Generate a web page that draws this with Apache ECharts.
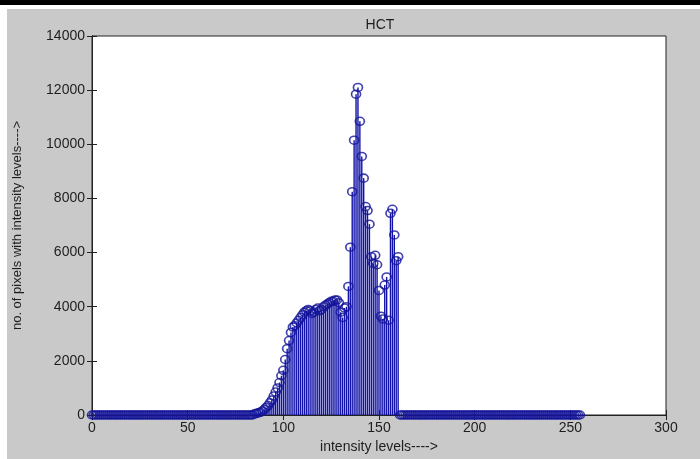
<!DOCTYPE html>
<html>
<head>
<meta charset="utf-8">
<script src="https://cdn.jsdelivr.net/npm/echarts@6/dist/echarts.min.js"></script>
<style>
  html, body { margin: 0; padding: 0; background: #fff; }
  #chart { width: 700px; height: 459px; }
</style>
</head>
<body>
<div id="chart"></div>
<script>
// histogram counts for intensity levels 0..255
const counts = [
  0, 0, 0, 0, 0, 0, 0, 0, 0, 0, 0, 0, 0, 0, 0, 0, 0, 0, 0, 0,
  0, 0, 0, 0, 0, 0, 0, 0, 0, 0, 0, 0, 0, 0, 0, 0, 0, 0, 0, 0,
  0, 0, 0, 0, 0, 0, 0, 0, 0, 0, 0, 0, 0, 0, 0, 0, 0, 0, 0, 0,
  0, 0, 0, 0, 0, 0, 0, 0, 0, 0, 0, 0, 0, 0, 0, 0, 0, 0, 0, 0,
  0, 0, 0, 0, 0, 50, 60, 80, 100, 150, 200, 280, 350, 450, 550, 700, 850, 1000, 1200, 1450,
  1650, 2050, 2450, 2750, 3050, 3250, 3300, 3400, 3500, 3600, 3700, 3800, 3850, 3900, 3850, 3750, 3800, 3900, 3950, 3850,
  3900, 4000, 4050, 4100, 4150, 4200, 4200, 4250, 4250, 4150, 3800, 3600, 3950, 4000, 4750, 6200, 8250, 10150, 11850, 12100,
  10850, 9550, 8750, 7700, 7550, 7050, 5850, 5600, 5900, 5550, 4600, 3650, 3550, 4800, 5100, 3500, 7450, 7600, 6650, 5700,
  5850, 0, 0, 0, 0, 0, 0, 0, 0, 0, 0, 0, 0, 0, 0, 0, 0, 0, 0, 0,
  0, 0, 0, 0, 0, 0, 0, 0, 0, 0, 0, 0, 0, 0, 0, 0, 0, 0, 0, 0,
  0, 0, 0, 0, 0, 0, 0, 0, 0, 0, 0, 0, 0, 0, 0, 0, 0, 0, 0, 0,
  0, 0, 0, 0, 0, 0, 0, 0, 0, 0, 0, 0, 0, 0, 0, 0, 0, 0, 0, 0,
  0, 0, 0, 0, 0, 0, 0, 0, 0, 0, 0, 0, 0, 0, 0, 0
]
const xTicks = [0, 300, 50]      // min, max, step
const yTicks = [0, 14000, 2000]

const stemColor = '#1212a8'
const markColor = '#14149a'
const txt = '#1e1e1e'
const font = 'Liberation Sans, Arial, sans-serif'

const points = counts.map((v, i) => [i, v])

const chart = echarts.init(document.getElementById('chart'))
const tickStyle = { inside: true, length: 5, lineStyle: { color: '#222' } }
const lineStyle = { lineStyle: { color: '#222', width: 1 } }

const option = {
  backgroundColor: '#c9c9c9',
  animation: false,
  title: {
    text: 'HCT',
    left: 375,
    top: 13,
    textAlign: 'center',
    textStyle: { fontSize: 14, fontWeight: 'normal', color: txt, fontFamily: font },
  },
  graphic: [
    { type: 'rect', shape: { x: 0, y: 0, width: 700, height: 5 }, style: { fill: '#000' } },
    { type: 'rect', shape: { x: 0, y: 5, width: 700, height: 4 }, style: { fill: '#fff' } },
    { type: 'rect', shape: { x: 0, y: 5, width: 7, height: 454 }, style: { fill: '#fff' } },
  ],
  grid: {
    left: 92,
    top: 36,
    width: 574,
    height: 380,
    show: true,
    backgroundColor: '#fff',
    borderColor: '#222',
    borderWidth: 1,
  },
  xAxis: [
    {
      type: 'value',
      min: xTicks[0],
      max: xTicks[1],
      interval: xTicks[2],
      name: 'intensity levels---->',
      nameLocation: 'middle',
      nameGap: 25,
      nameTextStyle: { fontSize: 14, color: txt, fontFamily: font },
      axisLine: lineStyle,
      axisTick: tickStyle,
      axisLabel: { fontSize: 14, color: txt, fontFamily: font, margin: 6 },
      splitLine: { show: false },
    },
    {
      type: 'value',
      position: 'top',
      min: xTicks[0],
      max: xTicks[1],
      interval: xTicks[2],
      axisLine: lineStyle,
      axisTick: tickStyle,
      axisLabel: { show: false },
      splitLine: { show: false },
    },
  ],
  yAxis: [
    {
      type: 'value',
      min: yTicks[0],
      max: yTicks[1],
      interval: yTicks[2],
      name: 'no. of pixels with intensity levels---->',
      nameLocation: 'middle',
      nameGap: 68,
      nameTextStyle: { fontSize: 13, color: txt, fontFamily: font },
      axisLine: lineStyle,
      axisTick: tickStyle,
      axisLabel: { fontSize: 14, color: txt, fontFamily: font, margin: 7, formatter: (v) => String(v) },
      splitLine: { show: false },
    },
    {
      type: 'value',
      position: 'right',
      min: yTicks[0],
      max: yTicks[1],
      interval: yTicks[2],
      axisLine: lineStyle,
      axisTick: tickStyle,
      axisLabel: { show: false },
      splitLine: { show: false },
    },
  ],
  series: [
    {
      name: 'stems',
      type: 'bar',
      data: points,
      barWidth: 1.4,
      itemStyle: { color: stemColor },
    },
    {
      name: 'markers',
      type: 'scatter',
      data: points,
      clip: false,
      symbol: 'circle',
      symbolSize: [9, 8],
      itemStyle: { color: 'rgba(0,0,0,0)', borderColor: markColor, borderWidth: 1.6 },
    },
  ],
}

option && chart.setOption(option)
</script>
</body>
</html>
